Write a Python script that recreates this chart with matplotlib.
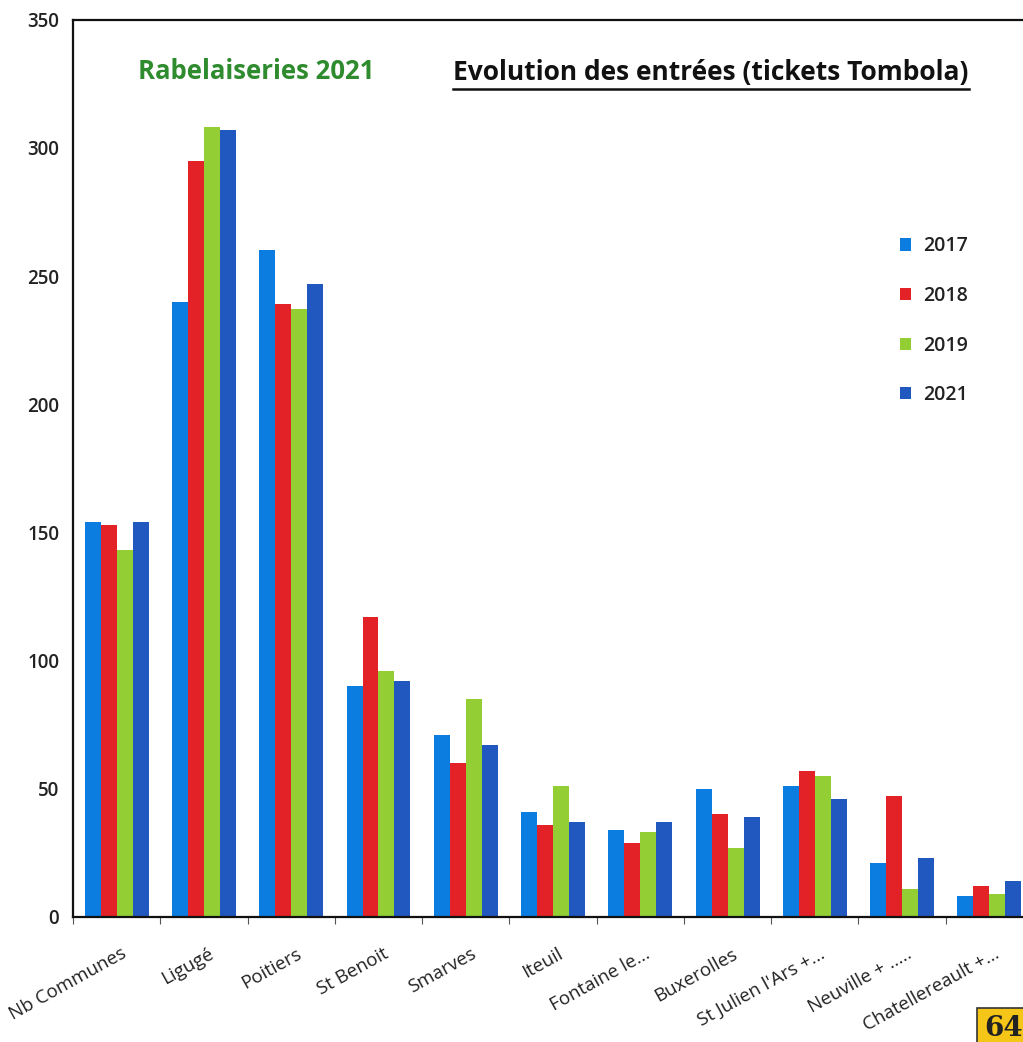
import matplotlib
matplotlib.use("Agg")
import matplotlib.pyplot as plt
import numpy as np

categories = ["Nb Communes", "Ligugé", "Poitiers", "St Benoit", "Smarves", "Iteuil",
              "Fontaine le...", "Buxerolles", "St Julien l'Ars +...", "Neuville + .....",
              "Chatellereault +..."]
years = ["2017", "2018", "2019", "2021"]
v2017 = [154, 240, 260, 90, 71, 41, 34, 50, 51, 21, 8]
v2018 = [153, 295, 239, 117, 60, 36, 29, 40, 57, 47, 12]
v2019 = [143, 308, 237, 96, 85, 51, 33, 27, 55, 11, 9]
v2021 = [154, 307, 247, 92, 67, 37, 37, 39, 46, 23, 14]
yticks = [0, 50, 100, 150, 200, 250, 300, 350]

series = [v2017, v2018, v2019, v2021]
colors = ["#0b7de0", "#e22226", "#93cf34", "#2158c0"]

plt.rcParams['font.family'] = ['Open Sans', 'DejaVu Sans']

fig = plt.figure(figsize=(10.23, 10.42), dpi=100)
ax = fig.add_axes([0.0714, 0.12, 0.9384, 0.861])

x = np.arange(len(categories))
w = 0.183
for i, (vals, c, lab) in enumerate(zip(series, colors, years)):
    ax.bar(x + (i - 1.5) * w, vals, width=w, color=c, label=lab, linewidth=0)

ax.set_xlim(-0.5, len(categories) - 0.5)
ax.set_ylim(0, 350)
ax.set_yticks(yticks)
ax.set_yticklabels([str(t) for t in yticks], fontsize=13.5, color="#222222",
                   fontweight="semibold")
ax.set_xticks(np.arange(len(categories) + 1) - 0.5, minor=False)
ax.set_xticklabels([""] * (len(categories) + 1))
ax.set_xticks(x + 0.05, minor=True)
ax.set_xticklabels(categories, minor=True, rotation=29, ha="right",
                   rotation_mode="anchor", fontsize=13.5, color="#222222")
ax.tick_params(axis="x", which="minor", length=0, pad=20)
ax.tick_params(axis="x", which="major", length=5, color="#555555")
ax.tick_params(axis="y", length=0, pad=10)
for s in ax.spines.values():
    s.set_linewidth(1.6)
    s.set_color("#111111")

leg = ax.legend(loc="upper left", bbox_to_anchor=(0.843, 0.778), frameon=False,
                handlelength=0.6, handleheight=0.6,
                labelspacing=1.52, handletextpad=0.6,
                prop={"size": 14, "weight": "semibold"})
for txt in leg.get_texts():
    txt.set_color("#222222")

fig.text(0.250, 0.931, "Rabelaiseries 2021", color="#2e8b2e", fontsize=18.5,
         fontweight="bold", ha="center", va="center")
t = fig.text(0.695, 0.930, "Evolution des entrées (tickets Tombola)", color="#111111",
             fontsize=19, fontweight="bold", ha="center", va="center")
fig.canvas.draw()
bb = t.get_window_extent().transformed(fig.transFigure.inverted())
fig.add_artist(plt.Line2D([bb.x0, bb.x1], [bb.y0 - 0.002, bb.y0 - 0.002],
                          transform=fig.transFigure, color="#111111", linewidth=1.8))

fig.text(1.0, 0.0, "64", fontsize=20, fontweight="bold", family="DejaVu Serif",
         ha="right", va="bottom", color="#222222",
         bbox=dict(boxstyle="square,pad=0.25", facecolor="#f5c518", edgecolor="#333333",
                   linewidth=1.2))

fig.savefig("out.png", dpi=100)
